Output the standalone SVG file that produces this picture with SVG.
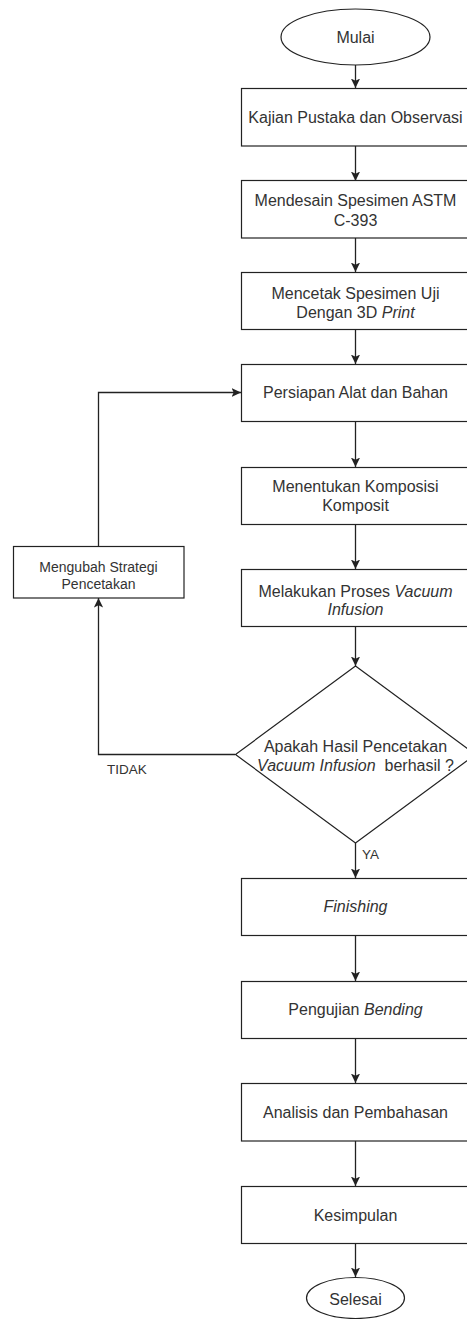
<svg xmlns="http://www.w3.org/2000/svg" width="467" height="1319" viewBox="0 0 467 1319">
<style>
.s{fill:#fff;stroke:#222;stroke-width:1.2}
.t{font-family:"Liberation Sans",Arial,sans-serif;font-size:16px;fill:#333;text-anchor:middle}
.sm{font-size:14px}
.c{fill:none;stroke:#222;stroke-width:1.3}
.l{font-family:"Liberation Sans",Arial,sans-serif;font-size:13.5px;fill:#333}
</style>
<defs>
<marker id="a" viewBox="0 0 10 10" refX="9.5" refY="5" markerWidth="10" markerHeight="10" markerUnits="userSpaceOnUse" orient="auto">
<path d="M0,0.4 L9.5,5 L0,9.6 L2.2,5 z" fill="#222"/>
</marker>
</defs>
<rect width="467" height="1319" fill="#fff"/>
<g id="connectors">
<path class="c" d="M355.5,65 V88" marker-end="url(#a)"/>
<path class="c" d="M355.5,146 V181" marker-end="url(#a)"/>
<path class="c" d="M355.5,238 V272" marker-end="url(#a)"/>
<path class="c" d="M355.5,329 V364" marker-end="url(#a)"/>
<path class="c" d="M355.5,421 V467" marker-end="url(#a)"/>
<path class="c" d="M355.5,524 V569" marker-end="url(#a)"/>
<path class="c" d="M355.5,627 V666" marker-end="url(#a)"/>
<path class="c" d="M355.5,843 V878" marker-end="url(#a)"/>
<path class="c" d="M355.5,935 V981" marker-end="url(#a)"/>
<path class="c" d="M355.5,1038 V1083" marker-end="url(#a)"/>
<path class="c" d="M355.5,1141 V1186" marker-end="url(#a)"/>
<path class="c" d="M355.5,1243 V1277" marker-end="url(#a)"/>
<path class="c" d="M235,754.5 H98.5 V598" marker-end="url(#a)"/>
<path class="c" d="M98.5,546 V392.5 H241" marker-end="url(#a)"/>
<text class="l" x="107" y="774">TIDAK</text>
<text class="l" x="362" y="859">YA</text>
</g>
<g id="mulai">
<ellipse class="s" cx="355.5" cy="37" rx="74.5" ry="28"/>
<text class="t" x="355.5" y="43">Mulai</text>
</g>
<g id="kajian">
<rect class="s" x="241.5" y="88.5" width="228" height="57.5"/>
<text class="t" x="355.5" y="123">Kajian Pustaka dan Observasi</text>
</g>
<g id="mendesain">
<rect class="s" x="241.5" y="180.5" width="228" height="57.5"/>
<text class="t" x="355.5" y="205.5">Mendesain Spesimen ASTM</text>
<text class="t" x="355.5" y="225.5">C-393</text>
</g>
<g id="mencetak">
<rect class="s" x="241.5" y="272.5" width="228" height="57"/>
<text class="t" x="355.5" y="299">Mencetak Spesimen Uji</text>
<text class="t" x="355.5" y="318">Dengan 3D <tspan font-style="italic">Print</tspan></text>
</g>
<g id="persiapan">
<rect class="s" x="241.5" y="364.5" width="228" height="57"/>
<text class="t" x="355.5" y="398">Persiapan Alat dan Bahan</text>
</g>
<g id="menentukan">
<rect class="s" x="241.5" y="467.5" width="228" height="57"/>
<text class="t" x="355.5" y="492">Menentukan Komposisi</text>
<text class="t" x="355.5" y="511">Komposit</text>
</g>
<g id="melakukan">
<rect class="s" x="241.5" y="569.5" width="228" height="57"/>
<text class="t" x="355.5" y="596.5">Melakukan Proses <tspan font-style="italic">Vacuum</tspan></text>
<text class="t" x="355.5" y="614.5" font-style="italic">Infusion</text>
</g>
<g id="keputusan">
<polygon class="s" points="355.5,666 475.5,754.5 355.5,843 235.5,754.5"/>
<text class="t" x="355.5" y="751.5">Apakah Hasil Pencetakan</text>
<text class="t" x="355.5" y="771" xml:space="preserve"><tspan font-style="italic">Vacuum Infusion</tspan>  berhasil ?</text>
</g>
<g id="mengubah">
<rect class="s" x="13.5" y="546.5" width="170.5" height="51.5"/>
<text class="t sm" x="98.5" y="571.5">Mengubah Strategi</text>
<text class="t sm" x="98.5" y="589">Pencetakan</text>
</g>
<g id="finishing">
<rect class="s" x="241.5" y="878.5" width="228" height="57"/>
<text class="t" x="355.5" y="912" font-style="italic">Finishing</text>
</g>
<g id="pengujian">
<rect class="s" x="241.5" y="981.5" width="228" height="57"/>
<text class="t" x="355.5" y="1015">Pengujian <tspan font-style="italic">Bending</tspan></text>
</g>
<g id="analisis">
<rect class="s" x="241.5" y="1083.5" width="228" height="57.5"/>
<text class="t" x="355.5" y="1118">Analisis dan Pembahasan</text>
</g>
<g id="kesimpulan">
<rect class="s" x="241.5" y="1186.5" width="228" height="57"/>
<text class="t" x="355.5" y="1220.5">Kesimpulan</text>
</g>
<g id="selesai">
<ellipse class="s" cx="355.5" cy="1298" rx="49" ry="20.5"/>
<text class="t" x="355.5" y="1304.5">Selesai</text>
</g>
</svg>
